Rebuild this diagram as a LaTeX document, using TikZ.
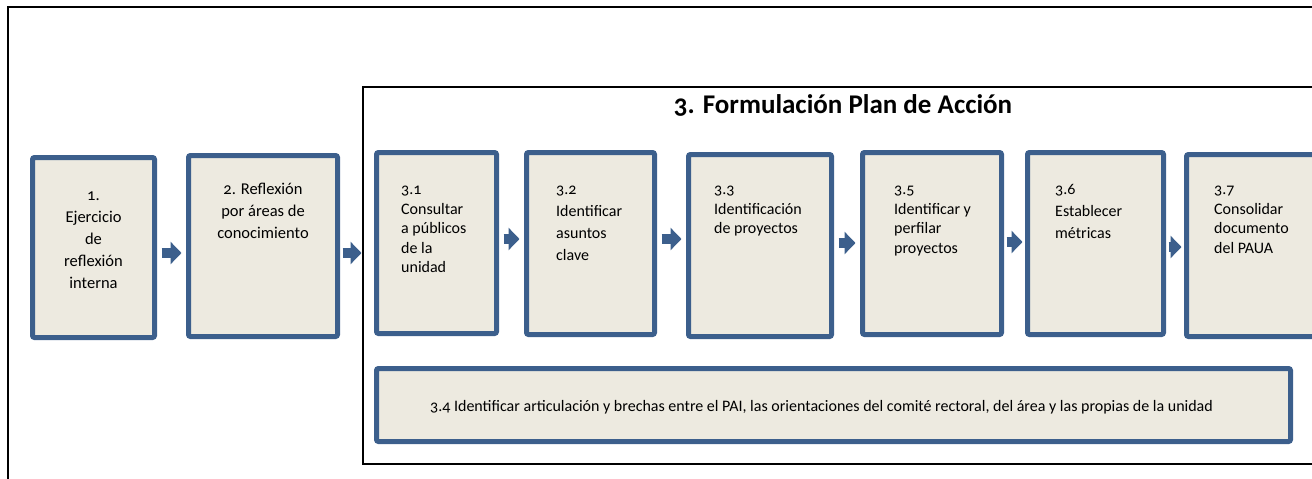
\documentclass[tikz,border=0pt]{standalone}
\usepackage{fontspec}
\setmainfont{Carlito}[Numbers=OldStyle]
\usetikzlibrary{arrows.meta}
\usetikzlibrary{positioning}
\definecolor{boxblue}{HTML}{3C5F8C}
\definecolor{boxfill}{HTML}{EDEAE0}
\tikzset{>={Triangle[length=11pt,width=22pt]}}
\newcommand\borderwd{5pt}
\newcommand\shaftwd{10pt}
\tikzstyle{stepbox}   = [draw=boxblue, fill=boxfill, line width=\borderwd, rounded corners=2pt, inner sep=0pt]
\tikzstyle{steptext}  = [inner sep=0pt, align=left, anchor=north west, font=\fontsize{16}{19.5}\selectfont]
\tikzstyle{widetext}  = [steptext, font=\fontsize{16.5}{22}\selectfont]
\tikzstyle{flow}      = [->, color=boxblue, line width=\shaftwd, shorten <=4.5pt, shorten >=4.5pt]
\tikzstyle{phaseline} = [draw=black, line width=1.5pt, inner sep=0pt]

\begin{document}
\begin{tikzpicture}[x=1pt, y=-1pt]
    \useasboundingbox (0, 0) rectangle (1312, 479);
    \clip (0, 0) rectangle (1312, 479);
    % outer frame and phase 3 frame
    \draw[line width=2pt] (8, 7) rectangle (1340, 500);
    \draw (362, 86) node[phaseline, anchor=north west, minimum width=980pt, minimum height=377pt] (fase3) {};
    \draw (843, 105) node (titulo) {\bfseries\fontsize{27}{32}\selectfont 3. Formulación Plan de Acción};
    % phases 1 and 2
    \draw (93.5, 247.5) node[stepbox, minimum width=122pt, minimum height=180pt] (b1) {};
    \draw (263, 246) node[stepbox, minimum width=149pt, minimum height=181pt] (b2) {};
    \draw (93.5, 240) node[widetext, anchor=center, align=center] (t1) {1.\\Ejercicio\\de\\reflexión\\interna};
    \draw (263, 183) node[widetext, anchor=north, align=center] (t2) {2. Reflexión\\por áreas de\\conocimiento};
    % steps of phase 3
    \draw (436.5, 243) node[stepbox, minimum width=120pt, minimum height=181pt] (s31) {};
    \draw (590.5, 243.5) node[stepbox, minimum width=128pt, minimum height=182pt] (s32) {};
    \draw (760, 245.5) node[stepbox, minimum width=143pt, minimum height=182pt] (s33) {};
    \draw (932, 243.5) node[stepbox, minimum width=139pt, minimum height=182pt] (s35) {};
    \draw (1095.5, 243.5) node[stepbox, minimum width=136pt, minimum height=182pt] (s36) {};
    \draw (1262, 245.5) node[stepbox, minimum width=151pt, minimum height=182pt] (s37) {};
    \draw (833.5, 405) node[stepbox, minimum width=914pt, minimum height=73pt] (s34) {};
    \draw (401, 186) node[steptext] (t31) {3.1\\Consultar\\a públicos\\de la\\unidad};
    \draw (556, 186) node[widetext, font=\fontsize{16}{22}\selectfont] (t32) {3.2\\Identificar\\asuntos\\clave};
    \draw (714, 186) node[steptext] (t33) {3.3\\Identificación\\de proyectos};
    \draw (894, 186) node[steptext] (t35) {3.5\\Identificar y\\perfilar\\proyectos};
    \draw (1055, 184) node[widetext, font=\fontsize{16}{22}\selectfont] (t36) {3.6\\Establecer\\métricas};
    \draw (1214, 186) node[steptext] (t37) {3.7\\Consolidar\\documento\\del PAUA};
    \draw (430, 407) node[inner sep=0pt, anchor=west, font=\fontsize{16}{19}\selectfont] (t34)
      {3.4 Identificar articulación y brechas entre el PAI, las orientaciones del comité rectoral, del área y las propias de la unidad};
    % arrows
    \draw ([yshift=-5.5pt]b1.east) -- ([yshift=-5.5pt]b1.east -| b2.west) [flow];
    \draw ([yshift=-7pt]b2.east) -- ([yshift=-7pt]b2.east -| fase3.west) [flow, shorten <=2.5pt, shorten >=0.5pt];
    \draw ([yshift=4pt]s31.east) -- ([yshift=4pt]s31.east -| s32.west) [flow];
    \draw ([yshift=4.5pt]s32.east) -- ([yshift=4.5pt]s32.east -| s33.west) [flow];
    \draw ([yshift=2.5pt]s33.east) -- ([yshift=2.5pt]s33.east -| s35.west) [flow];
    \draw ([yshift=1.5pt]s35.east) -- ([yshift=1.5pt]s35.east -| s36.west) [flow, shorten <=2.5pt, shorten >=2.5pt];
    \draw ([yshift=-3.5pt]s36.east) -- ([yshift=-3.5pt]s36.east -| s37.west) [flow, shorten <=2.5pt, shorten >=2.5pt];
\end{tikzpicture}
\end{document}
